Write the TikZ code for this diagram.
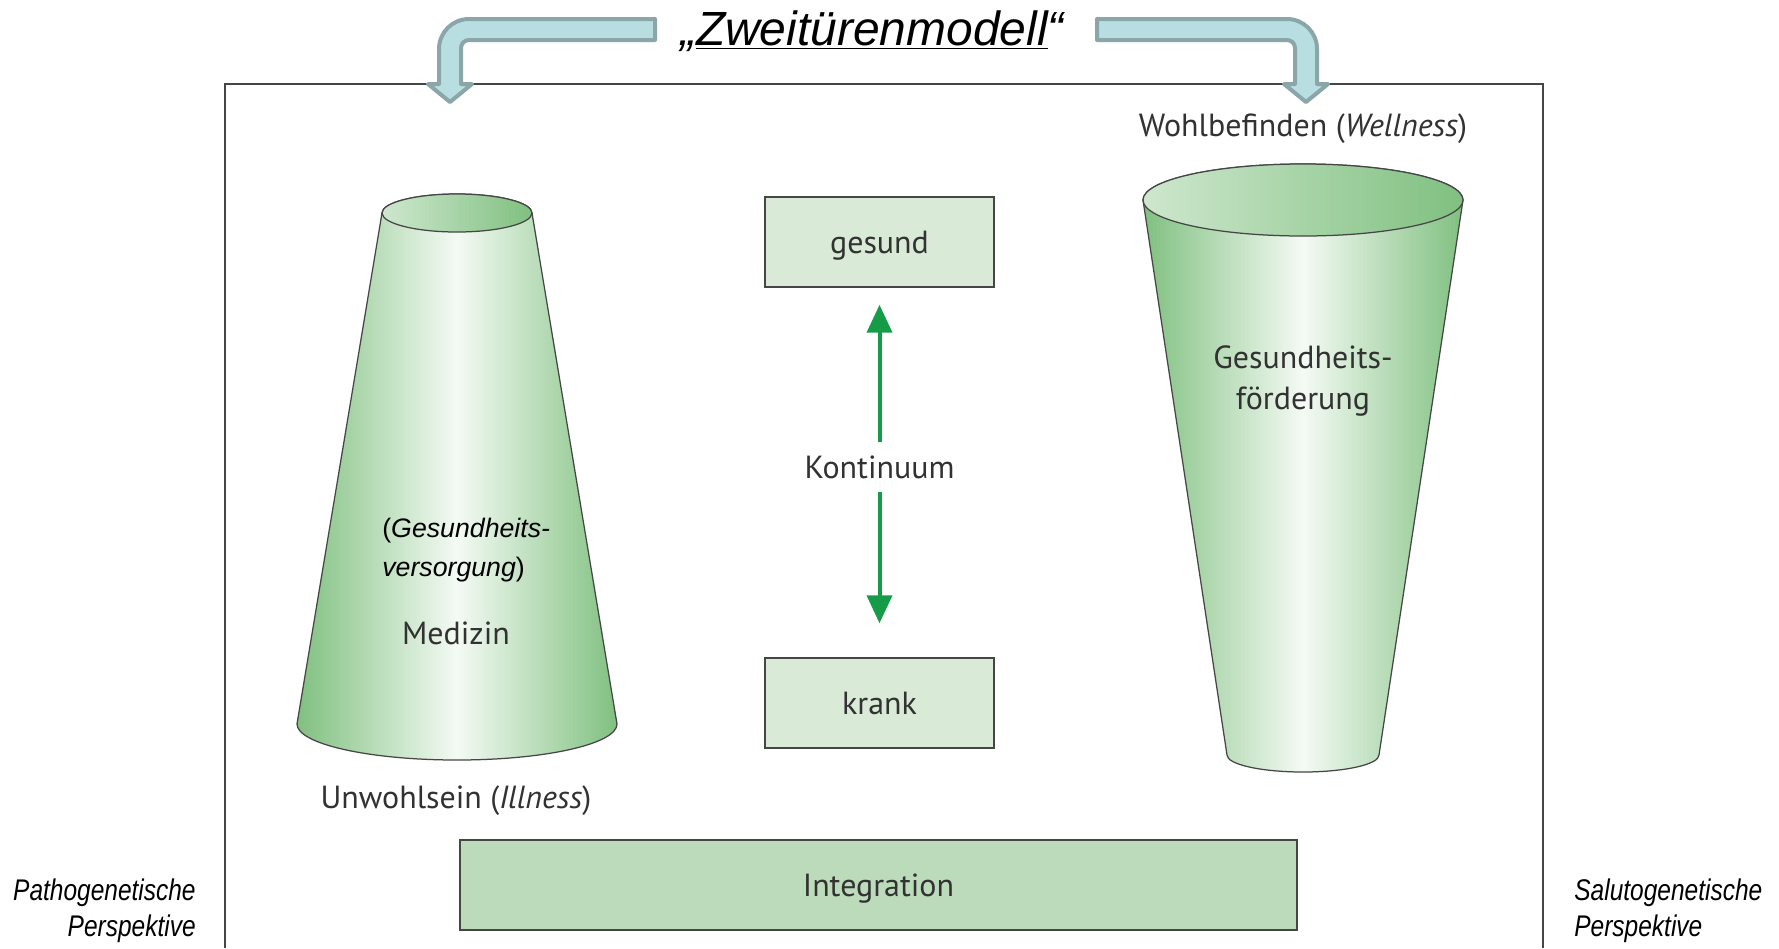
\documentclass[tikz,border=0pt]{standalone}
\usepackage{fontspec}
\setmainfont{PT Sans}
\newfontfamily\arialfont{Liberation Sans}
\usetikzlibrary{arrows.meta}

\definecolor{coneGreen}{RGB}{128,192,128}
\definecolor{coneLight}{RGB}{244,250,244}
\definecolor{coneTop}{RGB}{206,231,206}
\definecolor{boxGreen}{RGB}{217,235,215}
\definecolor{intGreen}{RGB}{187,219,187}
\definecolor{bendFill}{RGB}{184,222,226}
\definecolor{bendLine}{RGB}{138,166,168}
\definecolor{kontGreen}{RGB}{22,155,72}
\definecolor{textGray}{RGB}{50,50,50}
\definecolor{lineGray}{RGB}{70,70,70}

\newcommand{\narrowtext}[1]{\scalebox{0.82}[1]{#1}}

\begin{document}
\begin{tikzpicture}[x=0.02cm, y=0.02cm,
  every node/.style={inner sep=0pt, text=textGray},
  txt/.style={font=\fontsize{18.2}{22.8}\selectfont, align=center},
  statebox/.style={txt, draw=lineGray, line width=0.03cm, fill=boxGreen, text depth=0pt, minimum width=4.58cm, minimum height=1.8cm},
  intbox/.style={txt, draw=lineGray, line width=0.04cm, fill=intGreen, text depth=0pt, minimum width=16.74cm, minimum height=1.8cm},
  arialit/.style={font=\arialfont\fontsize{15.2}{22.2}\selectfont, text=black},
  persp/.style={font=\arialfont\itshape\fontsize{17}{20.5}\selectfont, text=black},
  coneline/.style={draw=lineGray, line width=0.025cm},
  bendarrow/.style={fill=bendFill, draw=bendLine, line width=0.08cm, line join=round},
  kont/.style={draw=kontGreen, line width=0.08cm, -{Triangle[length=0.56cm, width=0.5cm]}}]
  \fill[white] (0,0) rectangle (1779,-948);
  \useasboundingbox (0,0) rectangle (1779,-948);

  % frame
  \draw[lineGray, line width=0.035cm] (225,-948) -- (225,-84) -- (1543,-84) -- (1543,-948);

  % bent arrows
  \draw[bendarrow] (655,-19) -- (469,-19) .. controls (452.4,-19) and (439,-32.4) .. (439,-49)
    -- (439,-84) -- (428,-84) -- (450,-102) -- (472,-84) -- (461,-84) -- (461,-48)
    .. controls (461,-43.6) and (464.6,-40) .. (469,-40) -- (655,-40) -- cycle;
  \draw[bendarrow] (1097,-19) -- (1287,-19) .. controls (1303.6,-19) and (1317,-32.4) .. (1317,-49)
    -- (1317,-84) -- (1328,-84) -- (1306,-102) -- (1284,-84) -- (1295,-84) -- (1295,-48)
    .. controls (1295,-43.6) and (1291.4,-40) .. (1287,-40) -- (1097,-40) -- cycle;
  \node[font=\arialfont\itshape\fontsize{27.3}{30}\selectfont, text=black] (title) at (872,-31)
    {„\underline{Zweitürenmodell}“};

  % left cone
  \draw[coneline, left color=coneGreen, right color=coneGreen, middle color=coneLight]
    (382,-213) -- (297,-724) arc[start angle=180, end angle=360, x radius=160, y radius=36]
    -- (532,-213) arc[start angle=0, end angle=180, x radius=75, y radius=19] -- cycle;
  \draw[coneline, left color=coneTop, right color=coneGreen] (457,-213) ellipse [x radius=75, y radius=19];

  % right cone
  \draw[coneline, left color=coneGreen, right color=coneGreen, middle color=coneLight]
    (1143,-200) -- (1227,-755) arc[start angle=180, end angle=360, x radius=76, y radius=17]
    -- (1463,-200) arc[start angle=0, end angle=180, x radius=160, y radius=36] -- cycle;
  \draw[coneline, left color=coneTop, right color=coneGreen] (1303,-200) ellipse [x radius=160, y radius=36];

  \node[arialit, anchor=west, align=left] (versorg) at (382,-550)
    {(\textit{Gesundheits-}\\\textit{versorgung})};
  \node[txt] (medizin) at (456,-633) {Medizin};
  \node[txt] (unwohl) at (456,-801) {Unwohlsein (\textit{Illness})};
  \node[txt] (wohl) at (1303,-129) {Wohlbefinden (\textit{Wellness})};
  \node[txt] (foerd) at (1303,-381) {Gesundheits-\\förderung};

  % continuum
  \node[statebox] (gesund) at (879.5,-242) {gesund};
  \node[statebox] (krank) at (879.5,-703) {krank};
  \node[txt, minimum height=1.0cm] (kontinuum) at (879.5,-467) {Kontinuum};
  \draw[kont, shorten >=0.34cm] (kontinuum) -- (gesund);
  \draw[kont, shorten >=0.68cm] (kontinuum) -- (krank);

  \node[intbox] (integ) at (878.5,-885) {Integration};

  \node[persp, anchor=east, align=right] (patho) at (196,-911)
    {\narrowtext{Pathogenetische}\\\narrowtext{Perspektive}};
  \node[persp, anchor=west, align=left] (saluto) at (1574,-911)
    {\narrowtext{Salutogenetische}\\\narrowtext{Perspektive}};
\end{tikzpicture}
\end{document}
